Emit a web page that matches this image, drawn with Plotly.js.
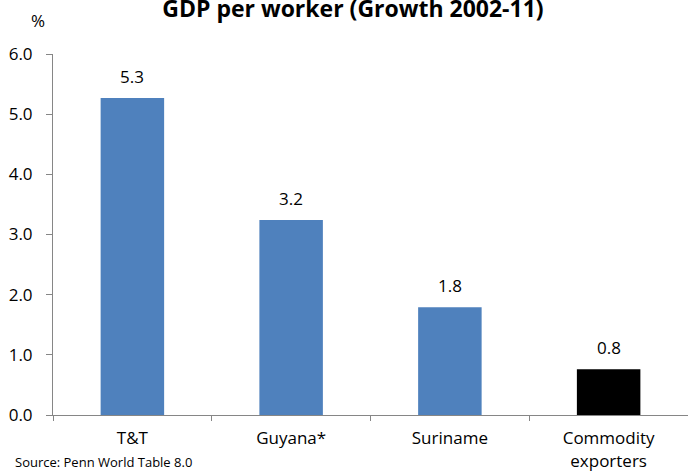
<!DOCTYPE html>
<html>
<head>
<meta charset="utf-8">
<script src="https://cdn.plot.ly/plotly-3.0.1.min.js"></script>
<style>html,body{margin:0;padding:0;background:#fff;}#chart{width:688px;height:473px;}</style>
</head>
<body>
<div id="chart"></div>
<script>
const categories = ["T&T", "Guyana*", "Suriname", "Commodity<br>exporters"];
const values = [5.27, 3.24, 1.79, 0.76];
const valueLabels = ["5.3", "3.2", "1.8", "0.8"];
const barColors = ["#4F81BD", "#4F81BD", "#4F81BD", "#000000"];
const yTicks = [0, 1, 2, 3, 4, 5, 6];

const FONT = "'Open Sans', sans-serif";

const trace = {
  type: "bar",
  x: categories,
  y: values,
  marker: {color: barColors, line: {width: 0}},
  hoverinfo: "none"
};

const annotations = categories.map((c, i) => ({
  x: c, y: values[i], xref: "x", yref: "y",
  text: valueLabels[i], showarrow: false,
  yanchor: "bottom", yshift: 8,
  font: {family: FONT, size: 17, color: "#000"}
}));
annotations.push({
  xref: "paper", yref: "paper", x: -0.024, y: 1.094,
  text: "%", showarrow: false, xanchor: "center", yanchor: "middle",
  font: {family: FONT, size: 17, color: "#000"}
});
annotations.push({
  xref: "paper", yref: "paper", x: -0.063, y: -0.131,
  text: "Source: Penn World Table 8.0", showarrow: false, xanchor: "left", yanchor: "middle",
  font: {family: FONT, size: 13, color: "#000"}
});

const layout = {
  width: 688, height: 473,
  margin: {l: 53, r: 0, t: 54, b: 57.5},
  paper_bgcolor: "#fff", plot_bgcolor: "#fff",
  showlegend: false,
  bargap: 0.6,
  title: {
    text: "<b>GDP per worker (Growth 2002-11)</b>",
    x: 0.513, xanchor: "center", xref: "container",
    y: 0.982, yanchor: "middle", yref: "container",
    font: {family: FONT, size: 23, color: "#000"}
  },
  xaxis: {
    type: "category",
    showline: true, linecolor: "#868686", linewidth: 1,
    ticks: "outside", tickson: "boundaries", ticklen: 5, tickcolor: "#868686",
    showgrid: false, zeroline: false,
    tickfont: {family: FONT, size: 17, color: "#000"},
    ticklabelstandoff: 8
  },
  yaxis: {
    range: [0, 6],
    tickvals: yTicks,
    tickformat: ".1f",
    showline: true, linecolor: "#868686", linewidth: 1,
    ticks: "outside", ticklen: 6, tickcolor: "#868686",
    showgrid: false, zeroline: false,
    tickfont: {family: FONT, size: 17, color: "#000"},
    ticklabelstandoff: 10
  },
  annotations: annotations
};

Plotly.newPlot("chart", [trace], layout, {staticPlot: true, displayModeBar: false});
</script>
</body>
</html>
